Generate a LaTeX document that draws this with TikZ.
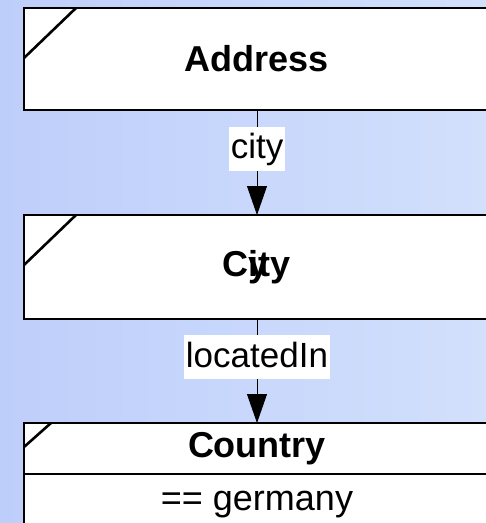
\documentclass[tikz,border=0pt]{standalone}
\usepackage{fontspec}
\setmainfont{Liberation Sans}
\usetikzlibrary{arrows.meta,calc}
\definecolor{bgleft}{RGB}{190,206,250}
\definecolor{bgright}{RGB}{210,224,252}
\tikzset{
  umlbox/.style={draw=black, line width=2.6pt, fill=white, rectangle, minimum width=466pt,
    inner sep=0pt, outer sep=0pt, font=\fontsize{36}{43}\selectfont\bfseries},
  attrbox/.style={umlbox, font=\fontsize{36}{43}\selectfont},
  corner/.style={draw=black, line width=2.6pt},
  edge/.style={draw=black, line width=0.8pt, -{Triangle[width=20pt,length=29pt]}},
  elabel/.style={fill=white, inner xsep=1.5pt, inner ysep=2pt, text height=30pt, text depth=10pt,
    font=\fontsize{35}{42}\selectfont, pos=0.37}
}
\begin{document}
\begin{tikzpicture}[x=1pt,y=-1pt]
\useasboundingbox (0,0) rectangle (486,523);
\clip (0,0) rectangle (486,523);
\shade[left color=bgleft, right color=bgright] (0,0) rectangle (486,523);

\node[umlbox, minimum height=102pt] (address) at (257,59) {Address};
\node[umlbox, minimum height=104pt] (city) at (257,267) {C\rlap{y}ity};
\node[umlbox, minimum height=51pt] (country) at (257,448.5) {Country};
\node[attrbox, minimum height=62pt, anchor=north] (countryattr) at (country.south) {== germany};

\draw[corner] ($(address.north west)+(0,50)$) -- ($(address.north west)+(52,0)$);
\draw[corner] ($(city.north west)+(0,50)$) -- ($(city.north west)+(52,0)$);
\draw[corner] ($(country.north west)+(0,24)$) -- ($(country.north west)+(27,0)$);

\draw[edge] (address.south) -- node[elabel] {city} (city.north);
\draw[edge] (city.south) -- node[elabel] {locatedIn} (country.north);
\end{tikzpicture}
\end{document}
